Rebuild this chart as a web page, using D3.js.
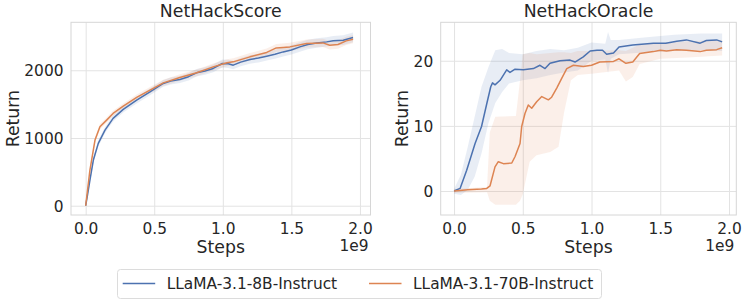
<!DOCTYPE html>
<html>
<head>
<meta charset="utf-8">
<script src="https://cdn.jsdelivr.net/npm/d3@7"></script>
<style>
  html, body { margin: 0; padding: 0; background: #fff; }
  svg { display: block; font-family: "DejaVu Sans", sans-serif; }
</style>
</head>
<body>
<svg id="chart" width="747" height="303"></svg>
<script>
// ---------------- DATA ----------------
const seriesNames = ["LLaMA-3.1-8B-Instruct", "LLaMA-3.1-70B-Instruct"];
const panelTitles = ["NetHackScore", "NetHackOracle"];
const xTicks = [0.0, 0.5, 1.0, 1.5, 2.0];
const scoreYTicks = [0, 1000, 2000];
const oracleYTicks = [0, 10, 20];

// NetHackScore, 8B (steps in 1e9)
const scoreSteps8B = [0, 0.012, 0.031, 0.056, 0.092, 0.141, 0.2, 0.274, 0.372, 0.469, 0.566, 0.62, 0.687, 0.75, 0.809, 0.87, 0.93, 0.996, 1.04, 1.076, 1.13, 1.198, 1.26, 1.32, 1.38, 1.44, 1.5, 1.562, 1.62, 1.684, 1.757, 1.805, 1.878, 1.95];
const scoreVals8B  = [0, 140, 379, 674, 920, 1117, 1289, 1422, 1559, 1681, 1805, 1840, 1864, 1905, 1962, 1990, 2027, 2100, 2095, 2075, 2120, 2159, 2180, 2208, 2235, 2271, 2300, 2345, 2380, 2404, 2419, 2434, 2444, 2484];
const scoreBand8B  = [0, 25, 35, 40, 45, 45, 45, 45, 48, 50, 50, 52, 52, 55, 55, 55, 58, 60, 60, 62, 62, 62, 64, 65, 66, 68, 68, 70, 70, 70, 70, 70, 72, 72];

// NetHackScore, 70B
const scoreSteps70B = [0, 0.012, 0.031, 0.068, 0.104, 0.153, 0.2, 0.274, 0.372, 0.469, 0.566, 0.687, 0.809, 0.93, 1.03, 1.076, 1.198, 1.32, 1.39, 1.489, 1.61, 1.73, 1.78, 1.84, 1.90, 1.95];
const scoreVals70B  = [0, 200, 527, 969, 1165, 1264, 1363, 1470, 1599, 1707, 1814, 1894, 1962, 2050, 2110, 2124, 2198, 2263, 2330, 2345, 2395, 2404, 2370, 2380, 2434, 2459];
const scoreBand70B  = [0, 25, 35, 40, 40, 40, 40, 40, 42, 45, 45, 48, 50, 50, 52, 52, 55, 58, 58, 60, 60, 62, 62, 62, 62, 62];

// NetHackOracle, 8B
const oracleSteps8B = [0, 0.044, 0.092, 0.153, 0.2, 0.238, 0.267, 0.28, 0.298, 0.335, 0.383, 0.407, 0.444, 0.504, 0.577, 0.625, 0.662, 0.698, 0.771, 0.844, 0.88, 0.94, 0.99, 1.04, 1.08, 1.11, 1.16, 1.2, 1.3, 1.45, 1.54, 1.62, 1.69, 1.79, 1.835, 1.91, 1.95];
const oracleVals8B  = [0, 0.4, 3.2, 7.3, 9.9, 13.4, 16.0, 16.6, 16.3, 17.0, 18.6, 18.2, 18.7, 18.6, 18.8, 19.3, 18.8, 19.6, 20.0, 20.1, 19.8, 20.6, 21.5, 21.6, 21.6, 21.0, 21.2, 22.1, 22.4, 22.7, 22.7, 23.0, 23.2, 22.7, 23.1, 23.2, 22.9];
const oracleBandSteps8B = [0, 0.05, 0.1, 0.15, 0.2, 0.25, 0.3, 0.35, 0.4, 0.5, 0.6, 0.7, 0.8, 0.9, 1.0, 1.1, 1.12, 1.14, 1.2, 1.4, 1.6, 1.8, 1.95];
const oracleLow8B   = [-0.4, -0.6, 0.2, 2.2, 5.8, 10.4, 13.5, 15.2, 16.5, 17.0, 17.3, 17.8, 18.2, 18.5, 20.0, 20.2, 18.1, 20.3, 21.0, 21.3, 21.5, 21.6, 21.5];
const oracleHigh8B  = [0.3, 2.5, 6.8, 11.4, 16.0, 19.0, 21.6, 21.8, 21.2, 21.0, 21.5, 21.8, 21.6, 22.0, 22.8, 22.6, 24.4, 23.2, 23.2, 23.6, 24.0, 24.2, 24.2];

// NetHackOracle, 70B
const oracleSteps70B = [0, 0.1, 0.2, 0.238, 0.262, 0.298, 0.322, 0.359, 0.42, 0.444, 0.48, 0.492, 0.516, 0.54, 0.565, 0.601, 0.638, 0.686, 0.71, 0.747, 0.783, 0.82, 0.868, 0.94, 1.0, 1.06, 1.16, 1.2, 1.25, 1.3, 1.35, 1.45, 1.5, 1.545, 1.62, 1.69, 1.79, 1.835, 1.91, 1.95];
const oracleVals70B  = [0, 0.2, 0.3, 0.4, 0.8, 3.7, 4.5, 4.2, 4.3, 5.3, 7.3, 9.9, 11.9, 13.2, 12.7, 13.7, 14.5, 14.0, 14.4, 15.8, 17.3, 18.8, 19.3, 19.1, 19.3, 19.8, 19.9, 20.3, 19.6, 19.8, 21.1, 21.4, 21.6, 21.5, 21.7, 21.6, 21.4, 21.6, 21.7, 22.0];
const oracleBandSteps70B = [0, 0.24, 0.26, 0.3, 0.45, 0.48, 0.5, 0.55, 0.6, 0.7, 0.76, 0.8, 0.85, 0.9, 1.0, 1.2, 1.25, 1.3, 1.35, 1.5, 1.7, 1.95];
const oracleLow70B   = [-0.3, -0.2, -1.5, -2.1, -2.1, -1.5, -0.5, 4.5, 5.5, 6.0, 6.8, 12.0, 17.0, 17.8, 18.0, 18.5, 16.8, 17.5, 19.5, 20.3, 20.5, 20.8];
const oracleHigh70B  = [0.3, 0.6, 9.0, 11.4, 11.5, 17.0, 21.0, 21.2, 21.0, 21.2, 21.3, 21.3, 21.2, 21.5, 21.5, 21.6, 21.5, 22.0, 22.5, 22.7, 23.0, 23.2];

const colors = ["#4C72B0", "#DD8452"];

// ---------------- DRAW ----------------
const svg = d3.select("#chart");
const textColor = "#262626";
const gridColor = "#e3e3e3";
const spineColor = "#d6d6d6";

function zip(xs, ys) { return xs.map((x, i) => [x, ys[i]]); }

function panel(cfg) {
  const { left, right, top, bottom, xDomain, yDomain, yTicks, title, lines, bands } = cfg;
  const x = d3.scaleLinear().domain(xDomain).range([left, right]);
  const y = d3.scaleLinear().domain(yDomain).range([bottom, top]);
  const g = svg.append("g");

  // grid
  const gx = g.append("g").attr("transform", `translate(0,${bottom})`)
    .call(d3.axisBottom(x).tickValues(xTicks).tickSize(-(bottom - top)).tickFormat(""));
  gx.select(".domain").remove();
  gx.selectAll("line").attr("stroke", gridColor).attr("stroke-width", 1);
  const gy = g.append("g").attr("transform", `translate(${left},0)`)
    .call(d3.axisLeft(y).tickValues(yTicks).tickSize(-(right - left)).tickFormat(""));
  gy.select(".domain").remove();
  gy.selectAll("line").attr("stroke", gridColor).attr("stroke-width", 1);

  // bands
  bands.forEach((b, i) => {
    const area = d3.area().x(d => x(d[0])).y0(d => y(d[1])).y1(d => y(d[2]));
    g.append("path").datum(b.steps.map((s, k) => [s, b.low[k], b.high[k]]))
      .attr("d", area).attr("fill", colors[i]).attr("fill-opacity", 0.13).attr("stroke", "none");
  });
  // lines
  lines.forEach((l, i) => {
    const line = d3.line().x(d => x(d[0])).y(d => y(d[1]));
    g.append("path").datum(zip(l.steps, l.vals)).attr("d", line)
      .attr("fill", "none").attr("stroke", colors[i]).attr("stroke-width", 1.5)
      .attr("stroke-linejoin", "round");
  });

  // frame
  g.append("rect").attr("x", left).attr("y", top).attr("width", right - left).attr("height", bottom - top)
    .attr("fill", "none").attr("stroke", spineColor).attr("stroke-width", 1);

  // tick labels
  const ax = g.append("g").attr("transform", `translate(0,${bottom})`)
    .call(d3.axisBottom(x).tickValues(xTicks).tickSize(0).tickPadding(0).tickFormat(d3.format(".1f")));
  ax.select(".domain").remove();
  ax.selectAll("text").attr("y", 19.3).attr("dy", 0).attr("fill", textColor)
    .attr("font-size", "15.4px").attr("font-family", "DejaVu Sans");
  const ay = g.append("g").attr("transform", `translate(${left},0)`)
    .call(d3.axisLeft(y).tickValues(yTicks).tickSize(0).tickPadding(7.5).tickFormat(d3.format("d")));
  ay.select(".domain").remove();
  ay.selectAll("text").attr("dy", "0.36em").attr("fill", textColor)
    .attr("font-size", "15.4px").attr("font-family", "DejaVu Sans");

  // title
  g.append("text").attr("x", (left + right) / 2).attr("y", top - 5.5)
    .attr("text-anchor", "middle").attr("font-size", "17.3px").attr("fill", textColor).text(title);
  // x label
  g.append("text").attr("x", (left + right) / 2).attr("y", 252.7)
    .attr("text-anchor", "middle").attr("font-size", "17.3px").attr("fill", textColor).text("Steps");
  // offset
  g.append("text").attr("x", right - 2).attr("y", 250.7)
    .attr("text-anchor", "end").attr("font-size", "15.4px").attr("fill", textColor).text("1e9");
  // y label
  g.append("text").attr("transform", `translate(${cfg.yLabelX},${(top + bottom) / 2}) rotate(-90)`)
    .attr("text-anchor", "middle").attr("font-size", "17.3px").attr("fill", textColor).text("Return");
}

panel({
  left: 71, right: 370.5, top: 22.3, bottom: 215,
  xDomain: [-0.107, 2.077], yDomain: [-137, 2708], yTicks: scoreYTicks,
  title: panelTitles[0], yLabelX: 18.5,
  lines: [{ steps: scoreSteps8B, vals: scoreVals8B }, { steps: scoreSteps70B, vals: scoreVals70B }],
  bands: [
    { steps: scoreSteps8B, low: scoreVals8B.map((v, i) => v - scoreBand8B[i]), high: scoreVals8B.map((v, i) => v + scoreBand8B[i]) },
    { steps: scoreSteps70B, low: scoreVals70B.map((v, i) => v - scoreBand70B[i]), high: scoreVals70B.map((v, i) => v + scoreBand70B[i]) }
  ]
});

panel({
  left: 440.7, right: 736.3, top: 22.3, bottom: 215,
  xDomain: [-0.097, 2.053], yDomain: [-3.68, 25.9], yTicks: oracleYTicks,
  title: panelTitles[1], yLabelX: 408,
  lines: [{ steps: oracleSteps8B, vals: oracleVals8B }, { steps: oracleSteps70B, vals: oracleVals70B }],
  bands: [
    { steps: oracleBandSteps8B, low: oracleLow8B, high: oracleHigh8B },
    { steps: oracleBandSteps70B, low: oracleLow70B, high: oracleHigh70B }
  ]
});

// legend
const lg = svg.append("g");
lg.append("rect").attr("x", 117.5).attr("y", 269.5).attr("width", 484).attr("height", 29)
  .attr("rx", 3).attr("fill", "#fff").attr("stroke", "#dcdcdc").attr("stroke-width", 1);
const legendX = [122.7, 369];
seriesNames.forEach((name, i) => {
  lg.append("line").attr("x1", legendX[i]).attr("x2", legendX[i] + 32.5)
    .attr("y1", 283.5).attr("y2", 283.5).attr("stroke", colors[i]).attr("stroke-width", 1.5);
  lg.append("text").attr("x", legendX[i] + 44).attr("y", 289)
    .attr("font-size", "15.4px").attr("fill", textColor).text(name);
});
</script>
</body>
</html>
